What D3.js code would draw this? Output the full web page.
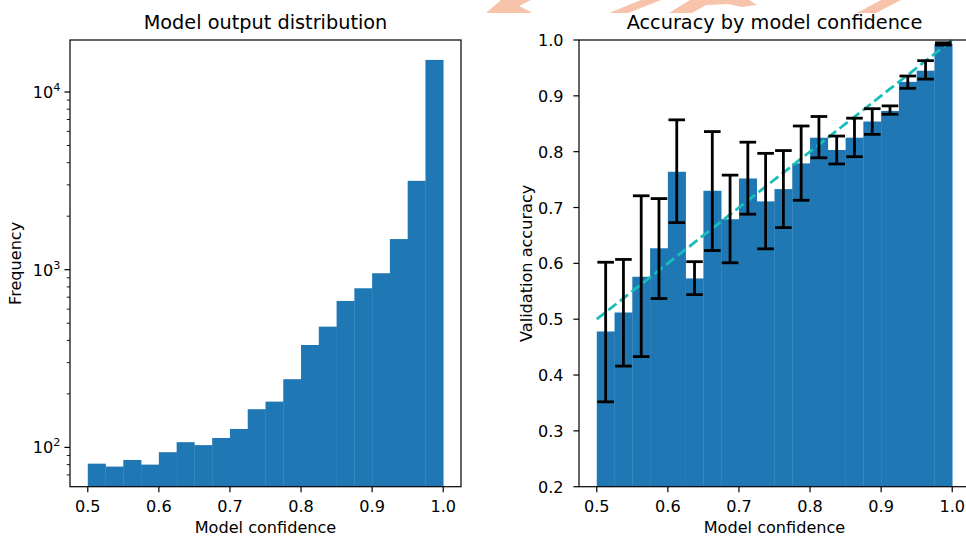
<!DOCTYPE html>
<html>
<head>
<meta charset="utf-8">
<script src="https://cdn.jsdelivr.net/npm/d3@7"></script>
<style>
  body { margin: 0; background: #fff; }
  svg { display: block; font-family: "DejaVu Sans", sans-serif; }
</style>
</head>
<body>
<svg id="chart" width="966" height="536"></svg>
<script>
// bin left edges (width 0.025)
const binStarts = [0.5, 0.525, 0.55, 0.575, 0.6, 0.625, 0.65, 0.675, 0.7, 0.725,
                   0.75, 0.775, 0.8, 0.825, 0.85, 0.875, 0.9, 0.925, 0.95, 0.975]
const binWidth = 0.025

// left panel: counts per bin
const frequency = [81, 78, 85, 80, 94, 107, 103, 113, 127, 164,
                   181, 242, 377, 478, 667, 786, 955, 1487, 3162, 15150]

// right panel: accuracy per bin, with error bar ends
const accuracy = [0.478, 0.512, 0.576, 0.627, 0.764, 0.573, 0.730, 0.679, 0.752, 0.711,
                  0.733, 0.779, 0.825, 0.803, 0.825, 0.854, 0.873, 0.925, 0.945, 0.993]
const errLow = [0.352, 0.416, 0.433, 0.537, 0.673, 0.544, 0.623, 0.601, 0.688, 0.626,
                0.664, 0.713, 0.789, 0.778, 0.791, 0.831, 0.867, 0.9135, 0.930, 0.991]
const errHigh = [0.602, 0.607, 0.721, 0.716, 0.857, 0.603, 0.836, 0.758, 0.817, 0.797,
                 0.802, 0.846, 0.863, 0.828, 0.860, 0.877, 0.882, 0.9355, 0.963, 0.995]

const xTicks = [0.5, 0.6, 0.7, 0.8, 0.9, 1.0]
const freqTicks = [100, 1000, 10000]
const accTicks = [0.2, 0.3, 0.4, 0.5, 0.6, 0.7, 0.8, 0.9, 1.0]

const blue = '#1f77b4'
const fs = 16.1
const tick = 5.6

const svg = d3.select('#chart')

// watermark scraps along the top edge
const marks = [
  [[486, 13], [501, 0], [531, 0], [519, 6], [531, 12], [531, 13]],
  [[609, 13], [628, 13], [661, 0], [641, 0]],
  [[669, 13], [692, 13], [706, 5], [728, 4], [742, 7], [757, 5], [749, 0], [690, 0]],
  [[857, 13], [876, 13], [901, 0], [881, 0]]
]
svg.append('g')
  .selectAll('path')
  .data(marks)
  .join('path')
    .attr('d', d => d3.line()(d) + 'Z')
    .attr('fill', '#f7c3ab')

function frame(g, x, y, title) {
  const [x0, x1] = x.range()
  const [y0, y1] = y.range()
  g.append('rect')
    .attr('x', x0).attr('y', y1)
    .attr('width', x1 - x0).attr('height', y0 - y1)
    .attr('fill', 'none').attr('stroke', '#000').attr('stroke-width', 1.2)
  g.append('text')
    .attr('x', (x0 + x1) / 2).attr('y', 28.5)
    .attr('text-anchor', 'middle')
    .attr('font-size', 19.3)
    .text(title)

  const xa = g.append('g')
  xa.selectAll('line')
    .data(xTicks)
    .join('line')
      .attr('x1', d => x(d)).attr('x2', d => x(d))
      .attr('y1', y0).attr('y2', y0 + tick)
      .attr('stroke', '#000').attr('stroke-width', 1.2)
  xa.selectAll('text')
    .data(xTicks)
    .join('text')
      .attr('x', d => x(d)).attr('y', 511.5)
      .attr('text-anchor', 'middle')
      .attr('font-size', fs)
      .text(d3.format('.1f'))
  g.append('text')
    .attr('x', (x0 + x1) / 2).attr('y', 533)
    .attr('text-anchor', 'middle')
    .attr('font-size', fs)
    .text('Model confidence')
}

// ---- left: histogram on log scale
const xL = d3.scaleLinear().domain([0.475, 1.025]).range([70, 461])
const yL = d3.scaleLog().domain([60.1, 19610]).range([486.7, 40])

const left = svg.append('g')
left.selectAll('rect.bar')
  .data(binStarts)
  .join('rect')
    .attr('class', 'bar')
    .attr('x', d => xL(d))
    .attr('width', d => xL(d + binWidth) - xL(d) + 0.3)
    .attr('y', (d, i) => yL(frequency[i]))
    .attr('height', (d, i) => yL.range()[0] - yL(frequency[i]))
    .attr('fill', blue)

frame(left, xL, yL, 'Model output distribution')

const minor = []
;[10, 100, 1000, 10000].forEach(b => {
  for (let k = 2; k <= 9; k++) {
    const v = b * k
    if (v > yL.domain()[0] && v < yL.domain()[1]) minor.push(v)
  }
})
left.append('g').selectAll('line')
  .data(minor)
  .join('line')
    .attr('x1', 70 - 3.2).attr('x2', 70)
    .attr('y1', d => yL(d)).attr('y2', d => yL(d))
    .attr('stroke', '#000').attr('stroke-width', 0.9)

const ly = left.append('g')
ly.selectAll('line')
  .data(freqTicks)
  .join('line')
    .attr('x1', 70 - tick).attr('x2', 70)
    .attr('y1', d => yL(d)).attr('y2', d => yL(d))
    .attr('stroke', '#000').attr('stroke-width', 1.2)
const lbl = ly.selectAll('text')
  .data(freqTicks)
  .join('text')
    .attr('x', 60.5)
    .attr('y', d => yL(d) + 6)
    .attr('text-anchor', 'end')
    .attr('font-size', fs)
lbl.append('tspan').text('10')
lbl.append('tspan')
  .attr('font-size', 11.3)
  .attr('dy', -7)
  .text(d => Math.round(Math.log10(d)))

left.append('text')
  .attr('transform', `translate(21, ${(40 + 486.7) / 2}) rotate(-90)`)
  .attr('text-anchor', 'middle')
  .attr('font-size', fs)
  .text('Frequency')

// ---- right: accuracy bars + error bars + diagonal
const xR = d3.scaleLinear().domain([0.475, 1.025]).range([579, 970])
const yR = d3.scaleLinear().domain([0.2, 1.0]).range([486.7, 40])

const right = svg.append('g')
right.selectAll('rect.bar')
  .data(binStarts)
  .join('rect')
    .attr('class', 'bar')
    .attr('x', d => xR(d))
    .attr('width', d => xR(d + binWidth) - xR(d) + 0.3)
    .attr('y', (d, i) => yR(accuracy[i]))
    .attr('height', (d, i) => yR(0.2) - yR(accuracy[i]))
    .attr('fill', blue)

right.append('line')
  .attr('x1', xR(0.5)).attr('y1', yR(0.5))
  .attr('x2', xR(1.0)).attr('y2', yR(1.0))
  .attr('stroke', '#17bebb')
  .attr('stroke-width', 2.8)
  .attr('stroke-dasharray', '10.3 4.4')

const eb = right.append('g')
  .selectAll('g')
  .data(binStarts)
  .join('g')
    .attr('stroke', '#000').attr('stroke-width', 2.8)
eb.append('line')
  .attr('x1', d => xR(d + binWidth / 2)).attr('x2', d => xR(d + binWidth / 2))
  .attr('y1', (d, i) => yR(errLow[i])).attr('y2', (d, i) => yR(errHigh[i]))
;[errLow, errHigh].forEach(arr => {
  eb.append('line')
    .attr('x1', d => xR(d + binWidth / 2) - 8.3).attr('x2', d => xR(d + binWidth / 2) + 8.3)
    .attr('y1', (d, i) => yR(arr[i])).attr('y2', (d, i) => yR(arr[i]))
})

frame(right, xR, yR, 'Accuracy by model confidence')

const ry = right.append('g')
ry.selectAll('line')
  .data(accTicks)
  .join('line')
    .attr('x1', 579 - tick).attr('x2', 579)
    .attr('y1', d => yR(d)).attr('y2', d => yR(d))
    .attr('stroke', '#000').attr('stroke-width', 1.2)
ry.selectAll('text')
  .data(accTicks)
  .join('text')
    .attr('x', 563.5)
    .attr('y', d => yR(d) + 6)
    .attr('text-anchor', 'end')
    .attr('font-size', fs)
    .text(d3.format('.1f'))

right.append('text')
  .attr('transform', `translate(532, ${(40 + 486.7) / 2}) rotate(-90)`)
  .attr('text-anchor', 'middle')
  .attr('font-size', fs)
  .text('Validation accuracy')
</script>
</body>
</html>
